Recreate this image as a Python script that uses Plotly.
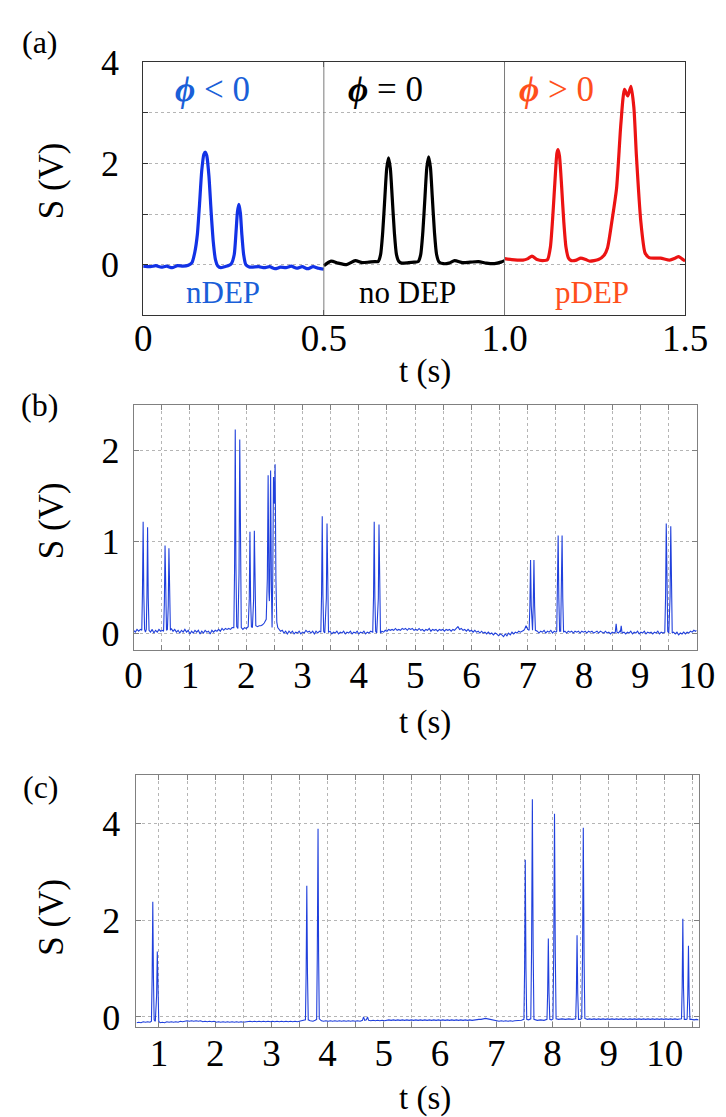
import plotly.graph_objects as go

W, H = 726, 1117
FONT = "Liberation Serif, Times New Roman, serif"

# ---------------- Panel (a) data: three 0.5 s segments ----------------
A_NDEP_T = [0.000, 0.020, 0.035, 0.050, 0.065, 0.080, 0.095, 0.110, 0.125, 0.135, 0.143,
            0.150, 0.156, 0.162, 0.168, 0.172, 0.176, 0.182, 0.188, 0.194, 0.200, 0.207,
            0.215, 0.225, 0.235, 0.244, 0.252, 0.257, 0.261, 0.265, 0.269, 0.273, 0.278,
            0.284, 0.292, 0.300, 0.320, 0.335, 0.350, 0.365, 0.380, 0.395, 0.410, 0.425,
            0.440, 0.455, 0.470, 0.485, 0.500]
A_NDEP_S = [-0.03, -0.04, -0.02, -0.05, -0.03, -0.06, -0.02, -0.03, -0.01, 0.04, 0.25,
            0.60, 1.20, 1.85, 2.18, 2.22, 2.15, 1.75, 1.05, 0.45, 0.10, -0.03,
            -0.06, -0.04, -0.02, 0.02, 0.20, 0.65, 1.05, 1.19, 1.02, 0.60, 0.20,
            0.00, -0.04, -0.05, -0.04, -0.06, -0.04, -0.08, -0.05, -0.06, -0.03, -0.07,
            -0.04, -0.08, -0.04, -0.07, -0.09]

A_NODEP_T = [0.500, 0.520, 0.540, 0.563, 0.587, 0.606, 0.625, 0.641, 0.650, 0.657, 0.663,
             0.669, 0.674, 0.679, 0.684, 0.689, 0.695, 0.701, 0.708, 0.715, 0.735, 0.750,
             0.761, 0.768, 0.774, 0.780, 0.785, 0.790, 0.795, 0.800, 0.806, 0.812, 0.819,
             0.831, 0.846, 0.862, 0.884, 0.905, 0.928, 0.950, 0.972, 0.990, 1.000]
A_NODEP_S = [-0.02, 0.07, 0.03, 0.00, 0.08, 0.04, 0.05, 0.06, 0.06, 0.20, 0.65,
             1.35, 1.90, 2.11, 1.90, 1.35, 0.65, 0.20, 0.06, 0.03, 0.04, 0.05,
             0.06, 0.20, 0.65, 1.35, 1.92, 2.13, 1.92, 1.35, 0.65, 0.20, 0.05,
             0.02, 0.03, 0.08, 0.04, 0.05, 0.06, 0.03, 0.02, 0.05, 0.08]

A_PDEP_T = [1.000, 1.020, 1.051, 1.065, 1.076, 1.090, 1.105, 1.119, 1.127, 1.134, 1.140,
            1.145, 1.148, 1.152, 1.158, 1.164, 1.170, 1.177, 1.185, 1.199, 1.211, 1.225,
            1.236, 1.260, 1.275, 1.285, 1.297, 1.310, 1.322, 1.332, 1.341, 1.350, 1.358,
            1.365, 1.377, 1.389, 1.400, 1.415, 1.432, 1.457, 1.470, 1.481, 1.500]
A_PDEP_S = [0.12, 0.10, 0.09, 0.12, 0.17, 0.10, 0.08, 0.10, 0.35, 1.00, 1.70,
            2.20, 2.27, 2.15, 1.55, 0.85, 0.35, 0.13, 0.08, 0.09, 0.13, 0.10,
            0.07, 0.10, 0.18, 0.33, 0.85, 1.50, 2.78, 3.46, 3.33, 3.52, 3.10,
            2.15, 0.87, 0.23, 0.14, 0.13, 0.13, 0.09, 0.12, 0.16, 0.07]

A_LABELS_TOP = ["<b><i>\u03d5</i></b> < 0", "<b><i>\u03d5</i></b> = 0", "<b><i>\u03d5</i></b> > 0"]
A_LABELS_BOTTOM = ["nDEP", "no DEP", "pDEP"]
A_LABEL_T_TOP = [0.193, 0.671, 1.144]
A_LABEL_T_BOTTOM = [0.222, 0.732, 1.242]
A_LABEL_S_TOP = 3.45
A_LABEL_S_BOTTOM = -0.55
A_SEPARATORS = [0.5, 1.0]

# ---------------- Panel (b) data ----------------
B_POINTS = [
    (0.00, 0.03), (0.03, 0.01), (0.06, 0.04), (0.09, 0.02), (0.12, 0.04), (0.145, 0.03),
    (0.157, 0.45), (0.169, 1.22), (0.181, 0.42), (0.195, 0.04), (0.21, 0.01), (0.225, 0.04),
    (0.236, 0.40), (0.248, 1.16), (0.26, 0.38), (0.274, 0.03), (0.30, 0.01), (0.33, 0.04),
    (0.36, 0.00), (0.39, 0.03), (0.42, 0.01), (0.45, 0.04), (0.48, 0.02), (0.51, 0.03),
    (0.532, 0.02), (0.546, 0.33), (0.558, 0.96), (0.570, 0.32), (0.584, 0.03), (0.60, 0.04),
    (0.615, 0.30), (0.627, 0.93), (0.639, 0.30), (0.653, 0.03), (0.67, 0.05), (0.70, 0.02),
    (0.73, 0.04), (0.76, 0.01), (0.79, 0.03), (0.82, 0.00), (0.85, 0.03), (0.88, 0.01),
    (0.91, 0.04), (0.94, 0.01), (0.97, 0.03), (1.00, -0.01), (1.03, 0.02), (1.06, 0.00),
    (1.09, 0.03), (1.12, 0.01), (1.15, 0.03), (1.18, -0.01), (1.21, 0.02), (1.24, 0.00),
    (1.27, 0.03), (1.30, 0.01), (1.33, 0.02), (1.36, -0.01), (1.39, 0.03), (1.42, 0.01),
    (1.45, 0.03), (1.48, 0.02), (1.51, 0.04), (1.54, 0.02), (1.57, 0.05), (1.60, 0.03),
    (1.63, 0.05), (1.66, 0.04), (1.69, 0.05), (1.72, 0.04), (1.75, 0.06), (1.780, 0.06),
    (1.793, 0.70), (1.805, 2.23), (1.817, 0.75), (1.831, 0.07), (1.852, 0.05), (1.872, 0.65),
    (1.885, 2.12), (1.898, 0.65), (1.912, 0.06), (1.94, 0.04), (1.97, 0.06), (2.00, 0.05),
    (2.035, 0.07), (2.054, 0.38), (2.066, 1.11), (2.078, 0.36), (2.092, 0.07), (2.11, 0.06),
    (2.132, 0.38), (2.144, 1.12), (2.156, 0.38), (2.170, 0.08), (2.20, 0.07), (2.23, 0.08),
    (2.26, 0.08), (2.29, 0.09), (2.32, 0.11), (2.355, 0.15), (2.375, 0.60), (2.389, 1.73),
    (2.403, 0.45), (2.411, 0.35), (2.419, 0.60), (2.433, 1.78), (2.447, 0.50), (2.459, 0.06),
    (2.471, 0.60), (2.484, 1.71), (2.498, 1.42), (2.513, 1.85), (2.527, 0.60), (2.543, 0.12),
    (2.56, 0.06), (2.58, 0.04), (2.61, 0.02), (2.64, 0.03), (2.67, 0.00), (2.70, 0.02),
    (2.73, -0.01), (2.76, 0.02), (2.79, 0.00), (2.82, 0.02), (2.85, -0.01), (2.88, 0.01),
    (2.91, 0.00), (2.94, 0.02), (2.97, -0.01), (3.00, 0.01), (3.03, 0.00), (3.06, 0.03),
    (3.09, 0.01), (3.12, 0.02), (3.15, 0.00), (3.18, 0.02), (3.21, -0.01), (3.24, 0.02),
    (3.27, 0.00), (3.30, 0.02), (3.325, 0.01), (3.338, 0.42), (3.350, 1.28), (3.362, 0.42),
    (3.376, 0.02), (3.395, 0.00), (3.423, 0.38), (3.435, 1.20), (3.447, 0.38), (3.461, 0.01),
    (3.49, 0.02), (3.52, -0.01), (3.55, 0.01), (3.58, 0.00), (3.61, 0.02), (3.64, -0.01),
    (3.67, 0.01), (3.70, 0.00), (3.73, 0.02), (3.76, -0.01), (3.79, 0.01), (3.82, 0.00),
    (3.85, 0.02), (3.88, -0.01), (3.91, 0.01), (3.94, 0.00), (3.97, 0.02), (4.00, -0.01),
    (4.03, 0.01), (4.06, 0.00), (4.09, 0.02), (4.12, -0.01), (4.15, 0.01), (4.18, 0.00),
    (4.21, 0.02), (4.247, 0.01), (4.261, 0.40), (4.273, 1.22), (4.285, 0.38), (4.299, 0.02),
    (4.318, 0.00), (4.346, 0.38), (4.358, 1.19), (4.370, 0.36), (4.384, 0.00), (4.41, 0.02),
    (4.44, 0.01), (4.47, 0.03), (4.50, 0.02), (4.53, 0.04), (4.56, 0.03), (4.59, 0.04),
    (4.62, 0.03), (4.65, 0.05), (4.68, 0.03), (4.71, 0.04), (4.74, 0.03), (4.77, 0.05),
    (4.80, 0.04), (4.83, 0.05), (4.86, 0.03), (4.89, 0.05), (4.92, 0.04), (4.95, 0.05),
    (4.98, 0.03), (5.01, 0.04), (5.04, 0.03), (5.07, 0.05), (5.10, 0.03), (5.13, 0.04),
    (5.16, 0.02), (5.19, 0.04), (5.22, 0.03), (5.25, 0.05), (5.28, 0.02), (5.31, 0.04),
    (5.34, 0.03), (5.37, 0.04), (5.40, 0.02), (5.43, 0.04), (5.46, 0.03), (5.49, 0.04),
    (5.52, 0.02), (5.55, 0.04), (5.58, 0.03), (5.61, 0.04), (5.64, 0.02), (5.67, 0.04),
    (5.70, 0.03), (5.73, 0.05), (5.76, 0.07), (5.79, 0.04), (5.82, 0.05), (5.85, 0.03),
    (5.88, 0.04), (5.91, 0.02), (5.94, 0.04), (5.97, 0.02), (6.00, 0.03), (6.03, 0.01),
    (6.06, 0.03), (6.09, 0.01), (6.12, 0.02), (6.15, 0.00), (6.18, 0.02), (6.21, 0.00),
    (6.24, 0.01), (6.27, -0.01), (6.30, 0.01), (6.33, -0.01), (6.36, 0.00), (6.39, -0.02),
    (6.42, 0.00), (6.45, -0.01), (6.48, -0.03), (6.51, -0.01), (6.54, -0.02), (6.57, -0.04),
    (6.60, -0.01), (6.63, -0.03), (6.66, 0.00), (6.69, -0.02), (6.72, 0.01), (6.75, -0.01),
    (6.78, 0.01), (6.81, 0.00), (6.84, 0.02), (6.87, 0.01), (6.90, 0.02), (6.93, 0.03),
    (6.95, 0.05), (6.97, 0.08), (7.00, 0.04), (7.025, 0.03), (7.038, 0.30), (7.05, 0.80),
    (7.062, 0.30), (7.076, 0.04), (7.085, 0.03), (7.098, 0.30), (7.11, 0.80), (7.122, 0.30),
    (7.136, 0.03), (7.17, 0.02), (7.20, 0.00), (7.23, 0.02), (7.26, 0.01), (7.29, 0.03),
    (7.32, 0.00), (7.35, 0.02), (7.38, 0.01), (7.41, 0.03), (7.44, 0.00), (7.47, 0.02),
    (7.50, 0.01), (7.515, 0.02), (7.528, 0.38), (7.54, 1.07), (7.552, 0.38), (7.566, 0.02),
    (7.585, 0.02), (7.598, 0.38), (7.61, 1.07), (7.622, 0.38), (7.636, 0.01), (7.66, 0.02),
    (7.69, 0.00), (7.72, 0.02), (7.75, 0.01), (7.78, 0.02), (7.81, 0.00), (7.84, 0.02),
    (7.87, 0.01), (7.90, 0.02), (7.93, 0.00), (7.96, 0.02), (7.99, 0.01), (8.02, 0.02),
    (8.05, 0.00), (8.08, 0.02), (8.11, 0.01), (8.14, 0.02), (8.17, 0.00), (8.20, 0.01),
    (8.23, 0.02), (8.26, 0.00), (8.29, 0.02), (8.32, 0.01), (8.35, 0.00), (8.38, 0.02),
    (8.41, 0.00), (8.44, 0.01), (8.47, -0.01), (8.50, 0.01), (8.53, 0.00), (8.555, 0.01),
    (8.57, 0.10), (8.585, 0.01), (8.61, 0.00), (8.635, 0.02), (8.645, 0.01), (8.66, 0.08),
    (8.675, 0.00), (8.71, 0.01), (8.74, -0.01), (8.77, 0.01), (8.80, 0.00), (8.83, 0.02),
    (8.86, -0.01), (8.89, 0.01), (8.92, 0.00), (8.95, 0.02), (8.98, -0.01), (9.01, 0.01),
    (9.04, 0.00), (9.07, 0.02), (9.10, -0.01), (9.13, 0.01), (9.16, 0.00), (9.19, 0.01),
    (9.22, -0.01), (9.25, 0.01), (9.28, 0.00), (9.31, 0.02), (9.34, -0.01), (9.37, 0.01),
    (9.40, 0.00), (9.434, 0.01), (9.448, 0.40), (9.46, 1.20), (9.472, 0.40), (9.486, 0.02),
    (9.505, 0.00), (9.528, 0.40), (9.54, 1.17), (9.552, 0.40), (9.566, 0.00), (9.59, 0.01),
    (9.62, -0.01), (9.65, 0.01), (9.68, -0.02), (9.71, 0.00), (9.74, -0.01), (9.77, 0.01),
    (9.80, -0.01), (9.83, 0.01), (9.86, 0.00), (9.89, 0.02), (9.92, 0.01), (9.95, 0.03),
    (9.98, 0.02), (10.00, 0.03),
]

# ---------------- Panel (c) data ----------------
C_POINTS = [
    (0.60, -0.12), (0.64, -0.11), (0.68, -0.12), (0.72, -0.10), (0.76, -0.11), (0.80, -0.10),
    (0.84, -0.11), (0.866, -0.09), (0.878, 0.80), (0.890, 2.38), (0.902, 0.80), (0.914, -0.06),
    (0.935, -0.09), (0.958, 0.45), (0.970, 1.35), (0.982, 0.45), (0.996, -0.09), (1.02, -0.12),
    (1.06, -0.11), (1.10, -0.12), (1.14, -0.10), (1.18, -0.11), (1.22, -0.10), (1.26, -0.11),
    (1.30, -0.10), (1.34, -0.11), (1.38, -0.09), (1.42, -0.10), (1.46, -0.09), (1.50, -0.08),
    (1.54, -0.09), (1.58, -0.08), (1.62, -0.09), (1.66, -0.08), (1.70, -0.09), (1.74, -0.08),
    (1.78, -0.10), (1.82, -0.09), (1.86, -0.10), (1.90, -0.09), (1.94, -0.10), (1.98, -0.09),
    (2.02, -0.11), (2.06, -0.10), (2.10, -0.11), (2.14, -0.10), (2.18, -0.11), (2.22, -0.10),
    (2.26, -0.11), (2.30, -0.10), (2.34, -0.11), (2.38, -0.10), (2.42, -0.11), (2.46, -0.10),
    (2.50, -0.11), (2.54, -0.10), (2.58, -0.10), (2.62, -0.09), (2.66, -0.10), (2.70, -0.09),
    (2.74, -0.10), (2.78, -0.09), (2.82, -0.10), (2.86, -0.09), (2.90, -0.10), (2.94, -0.09),
    (2.98, -0.10), (3.02, -0.09), (3.06, -0.10), (3.10, -0.09), (3.14, -0.10), (3.18, -0.09),
    (3.22, -0.10), (3.26, -0.09), (3.30, -0.10), (3.34, -0.09), (3.38, -0.10), (3.42, -0.09),
    (3.46, -0.10), (3.50, -0.09), (3.54, -0.09), (3.58, -0.08), (3.606, -0.06), (3.618, 0.90),
    (3.630, 2.71), (3.642, 0.90), (3.656, -0.06), (3.69, -0.08), (3.74, -0.09), (3.780, -0.07),
    (3.805, -0.05), (3.816, 1.20), (3.823, 3.55), (3.830, 3.89), (3.840, 1.30), (3.852, -0.04),
    (3.89, -0.08), (3.93, -0.09), (3.97, -0.08), (4.01, -0.09), (4.05, -0.08), (4.09, -0.09),
    (4.13, -0.08), (4.17, -0.09), (4.21, -0.08), (4.25, -0.09), (4.29, -0.08), (4.33, -0.09),
    (4.37, -0.08), (4.41, -0.09), (4.45, -0.08), (4.49, -0.09), (4.53, -0.08), (4.58, -0.09),
    (4.62, -0.07), (4.64, 0.00), (4.66, -0.07), (4.69, -0.06), (4.71, 0.00), (4.73, -0.07),
    (4.77, -0.08), (4.81, -0.07), (4.85, -0.08), (4.89, -0.07), (4.93, -0.08), (4.97, -0.07),
    (5.01, -0.08), (5.05, -0.07), (5.09, -0.06), (5.13, -0.07), (5.17, -0.06), (5.21, -0.07),
    (5.25, -0.06), (5.29, -0.07), (5.33, -0.06), (5.37, -0.07), (5.41, -0.06), (5.45, -0.07),
    (5.49, -0.06), (5.53, -0.07), (5.57, -0.06), (5.61, -0.07), (5.65, -0.06), (5.69, -0.07),
    (5.73, -0.06), (5.77, -0.07), (5.81, -0.06), (5.85, -0.07), (5.89, -0.06), (5.93, -0.07),
    (5.97, -0.06), (6.01, -0.07), (6.05, -0.06), (6.09, -0.07), (6.13, -0.06), (6.17, -0.07),
    (6.21, -0.06), (6.25, -0.07), (6.29, -0.06), (6.33, -0.07), (6.37, -0.06), (6.41, -0.07),
    (6.45, -0.06), (6.49, -0.07), (6.53, -0.06), (6.57, -0.07), (6.61, -0.06), (6.65, -0.06),
    (6.69, -0.05), (6.73, -0.05), (6.77, -0.04), (6.81, -0.03), (6.85, -0.04), (6.89, -0.05),
    (6.93, -0.06), (6.97, -0.07), (7.01, -0.08), (7.05, -0.09), (7.09, -0.08), (7.13, -0.09),
    (7.17, -0.08), (7.21, -0.09), (7.25, -0.08), (7.29, -0.09), (7.33, -0.08), (7.37, -0.08),
    (7.41, -0.07), (7.45, -0.07), (7.47, -0.06), (7.493, -0.05), (7.505, 1.00), (7.517, 3.25),
    (7.529, 1.00), (7.543, -0.05), (7.575, -0.06), (7.615, -0.04), (7.629, 1.40), (7.643, 4.50),
    (7.657, 1.40), (7.671, -0.05), (7.73, -0.07), (7.79, -0.06), (7.85, -0.07), (7.903, -0.05),
    (7.915, 0.50), (7.927, 1.62), (7.939, 0.50), (7.953, -0.05), (7.982, -0.06), (8.009, -0.04),
    (8.023, 1.30), (8.037, 4.20), (8.051, 1.30), (8.065, -0.04), (8.11, -0.05), (8.17, -0.04),
    (8.23, -0.05), (8.29, -0.04), (8.35, -0.05), (8.414, -0.04), (8.426, 0.50), (8.438, 1.69),
    (8.450, 0.50), (8.464, -0.05), (8.495, -0.05), (8.521, -0.03), (8.535, 1.20), (8.549, 3.91),
    (8.563, 1.20), (8.577, -0.03), (8.62, -0.05), (8.66, -0.04), (8.70, -0.05), (8.74, -0.04),
    (8.78, -0.05), (8.82, -0.04), (8.86, -0.05), (8.90, -0.04), (8.94, -0.05), (8.98, -0.04),
    (9.02, -0.05), (9.06, -0.04), (9.10, -0.05), (9.14, -0.04), (9.18, -0.05), (9.22, -0.04),
    (9.26, -0.05), (9.30, -0.04), (9.34, -0.05), (9.38, -0.04), (9.42, -0.05), (9.46, -0.04),
    (9.50, -0.05), (9.54, -0.04), (9.58, -0.05), (9.62, -0.04), (9.66, -0.05), (9.70, -0.04),
    (9.74, -0.05), (9.78, -0.04), (9.82, -0.05), (9.86, -0.04), (9.90, -0.05), (9.94, -0.04),
    (9.98, -0.05), (10.02, -0.04), (10.06, -0.05), (10.10, -0.04), (10.14, -0.05), (10.18, -0.04),
    (10.22, -0.05), (10.26, -0.04), (10.296, -0.04), (10.308, 0.60), (10.320, 2.03), (10.332, 0.60),
    (10.346, -0.05), (10.38, -0.05), (10.396, -0.04), (10.408, 0.45), (10.420, 1.47), (10.432, 0.45),
    (10.446, -0.05), (10.48, -0.05), (10.52, -0.06), (10.56, -0.05), (10.60, -0.06),
]

# ---------------- Styling ----------------
BLUE_LINE = "#1232e6"
BLACK_LINE = "#000000"
RED_LINE = "#ec1313"
BLUE_TEXT = "#1a5fd8"
ORANGE_TEXT = "#ff4f1c"
TRACE_BLUE = "#2040dc"
GRID = "#b5b5b5"
FRAME_A = "#333333"
FRAME_BC = "#808080"


def px(x):
    return x / W


def py(y):
    return 1 - y / H


fig = go.Figure()

# Panel (a)
for tt, ss, col in [(A_NDEP_T, A_NDEP_S, BLUE_LINE), (A_NODEP_T, A_NODEP_S, BLACK_LINE),
                    (A_PDEP_T, A_PDEP_S, RED_LINE)]:
    fig.add_trace(go.Scatter(x=tt, y=ss, mode="lines",
                             line=dict(color=col, width=3.2, shape="spline", smoothing=0.6),
                             xaxis="x", yaxis="y", showlegend=False, hoverinfo="skip"))

# Panel (b)
fig.add_trace(go.Scatter(x=[p[0] for p in B_POINTS], y=[p[1] for p in B_POINTS], mode="lines",
                         line=dict(color=TRACE_BLUE, width=1.1), xaxis="x2", yaxis="y2",
                         showlegend=False, hoverinfo="skip"))
# Panel (c)
fig.add_trace(go.Scatter(x=[p[0] for p in C_POINTS], y=[p[1] for p in C_POINTS], mode="lines",
                         line=dict(color=TRACE_BLUE, width=1.1), xaxis="x3", yaxis="y3",
                         showlegend=False, hoverinfo="skip"))

xtickfont = dict(family=FONT, size=37, color="black")
ytickfont = dict(family=FONT, size=36, color="black")

common = dict(showline=True, mirror="ticks", ticks="inside", ticklen=5, zeroline=False)
grid = dict(showgrid=True, gridcolor=GRID, griddash="dot", gridwidth=1)

fig.update_layout(
    width=W, height=H,
    margin=dict(l=0, r=0, t=0, b=0),
    paper_bgcolor="white", plot_bgcolor="white",
    xaxis={**common, "tickfont": xtickfont, "domain": [px(132), px(699)], "range": [0, 1.5],
           "anchor": "y", "tickvals": [0, 0.5, 1.0, 1.5], "ticktext": ["0", "0.5", "1.0", "1.5"],
           "showgrid": False, "linecolor": FRAME_A, "tickcolor": FRAME_A, "ticklabelstandoff": -10},
    yaxis={**common, **grid, "tickfont": ytickfont, "domain": [py(296), py(36)], "range": [-1, 4],
           "anchor": "x", "tickvals": [0, 1, 2, 3, 4], "ticktext": ["0", "", "2", "", "4"],
           "linecolor": FRAME_A, "tickcolor": FRAME_A, "ticklabelstandoff": 16},
    xaxis2={**common, **grid, "tickfont": xtickfont, "domain": [px(122), px(711)], "range": [0, 10],
            "anchor": "y2", "tickvals": [i * 0.5 for i in range(21)],
            "ticktext": [str(i // 2) if i % 2 == 0 else "" for i in range(21)],
            "linecolor": FRAME_BC, "tickcolor": FRAME_BC, "ticklabelstandoff": -8},
    yaxis2={**common, **grid, "tickfont": ytickfont, "domain": [py(640), py(388)],
            "range": [-0.19, 2.5], "anchor": "x2", "tickvals": [0, 1, 2],
            "linecolor": FRAME_BC, "tickcolor": FRAME_BC, "ticklabelstandoff": 6},
    xaxis3={**common, **grid, "tickfont": xtickfont, "domain": [px(125), px(713)],
            "range": [0.6, 10.6], "anchor": "y3", "tickvals": [1 + i * 0.5 for i in range(20)],
            "ticktext": [str(1 + i // 2) if i % 2 == 0 else "" for i in range(20)],
            "linecolor": FRAME_BC, "tickcolor": FRAME_BC, "ticklabelstandoff": -7},
    yaxis3={**common, **grid, "tickfont": ytickfont, "domain": [py(1027), py(768)],
            "range": [-0.215, 5.0], "anchor": "x3", "tickvals": [0, 2, 4],
            "linecolor": FRAME_BC, "tickcolor": FRAME_BC, "ticklabelstandoff": 8},
)

# Separators in panel (a)
for xs in A_SEPARATORS:
    fig.add_shape(type="line", xref="x", yref="y", x0=xs, x1=xs, y0=-1, y1=4,
                  line=dict(color="#7a7a7a", width=1))

# Panel (a) labels
label_colors = [BLUE_TEXT, "black", ORANGE_TEXT]
for lbl, t, c in zip(A_LABELS_TOP, A_LABEL_T_TOP, label_colors):
    fig.add_annotation(x=t, y=A_LABEL_S_TOP, xref="x", yref="y", text=lbl, showarrow=False,
                       xanchor="center", yanchor="middle",
                       font=dict(family=FONT, size=35, color=c))
for lbl, t, c in zip(A_LABELS_BOTTOM, A_LABEL_T_BOTTOM, label_colors):
    fig.add_annotation(x=t, y=A_LABEL_S_BOTTOM, xref="x", yref="y", text=lbl, showarrow=False,
                       xanchor="center", yanchor="middle",
                       font=dict(family=FONT, size=31, color=c))

# Panel letters, axis titles
for txt, (x, y) in zip(["(a)", "(b)", "(c)"], [(24, 15), (24, 388), (25, 780)]):
    fig.add_annotation(x=px(x), y=py(y), xref="paper", yref="paper", text=txt, showarrow=False,
                       xanchor="center", yanchor="middle",
                       font=dict(family=FONT, size=32, color="black"))
for y in [158, 507, 914]:
    fig.add_annotation(x=px(36), y=py(y), xref="paper", yref="paper", text="S (V)", textangle=-90,
                       xanchor="center", yanchor="middle",
                       showarrow=False, font=dict(family=FONT, size=35, color="black"))
for y in [354, 714, 1100]:
    fig.add_annotation(x=px(427), y=py(y), xref="paper", yref="paper", text="t (s)",
                       xanchor="center", yanchor="middle",
                       showarrow=False, font=dict(family=FONT, size=33, color="black"))

fig.write_html("out.html")
